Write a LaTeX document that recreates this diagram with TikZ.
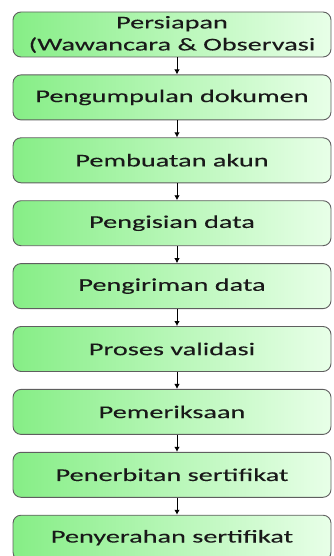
\documentclass[tikz,border=0pt]{standalone}
\usepackage{fontspec}
\setmainfont{Carlito}
\newfontfamily\boxfont[FakeStretch=1.57,FakeBold=0.15]{Carlito}
\usetikzlibrary{arrows.meta}
\definecolor{gl}{RGB}{134,238,134}
\definecolor{gr}{RGB}{232,255,232}
\definecolor{bd}{RGB}{95,95,95}
\definecolor{tx}{RGB}{25,25,25}
\tikzset{
  stepbox/.style={draw=bd, line width=0.9pt, rounded corners=8pt, left color=gl, right color=gr,
    minimum width=318pt, minimum height=45pt, inner sep=0pt, align=center,
    font=\boxfont\fontsize{18}{22}\selectfont, text=tx},
  arr/.style={-{Latex[length=5pt,width=5.5pt]}, line width=0.9pt, black}
}
\begin{document}
\begin{tikzpicture}[x=1pt,y=-1pt]
\useasboundingbox[clip] (0,0) rectangle (333,556);
\node[stepbox] (s1) at (172,34.5) {Persiapan\\(Wawancara \& Observasi};
\node[stepbox] (s2) at (172,97.4) {Pengumpulan dokumen};
\node[stepbox] (s3) at (172,160.3) {Pembuatan akun};
\node[stepbox] (s4) at (172,223.2) {Pengisian data};
\node[stepbox] (s5) at (172,286.1) {Pengiriman data};
\node[stepbox] (s6) at (172,349.0) {Proses validasi};
\node[stepbox] (s7) at (172,411.9) {Pemeriksaan};
\node[stepbox] (s8) at (172,474.8) {Penerbitan sertifikat};
\node[stepbox] (s9) at (172,537.7) {Penyerahan sertifikat};
\foreach \a/\b in {s1/s2,s2/s3,s3/s4,s4/s5,s5/s6,s6/s7,s7/s8,s8/s9}
  \draw[arr] ([xshift=5pt]\a.south) -- ([xshift=5pt]\b.north);
\end{tikzpicture}
\end{document}
